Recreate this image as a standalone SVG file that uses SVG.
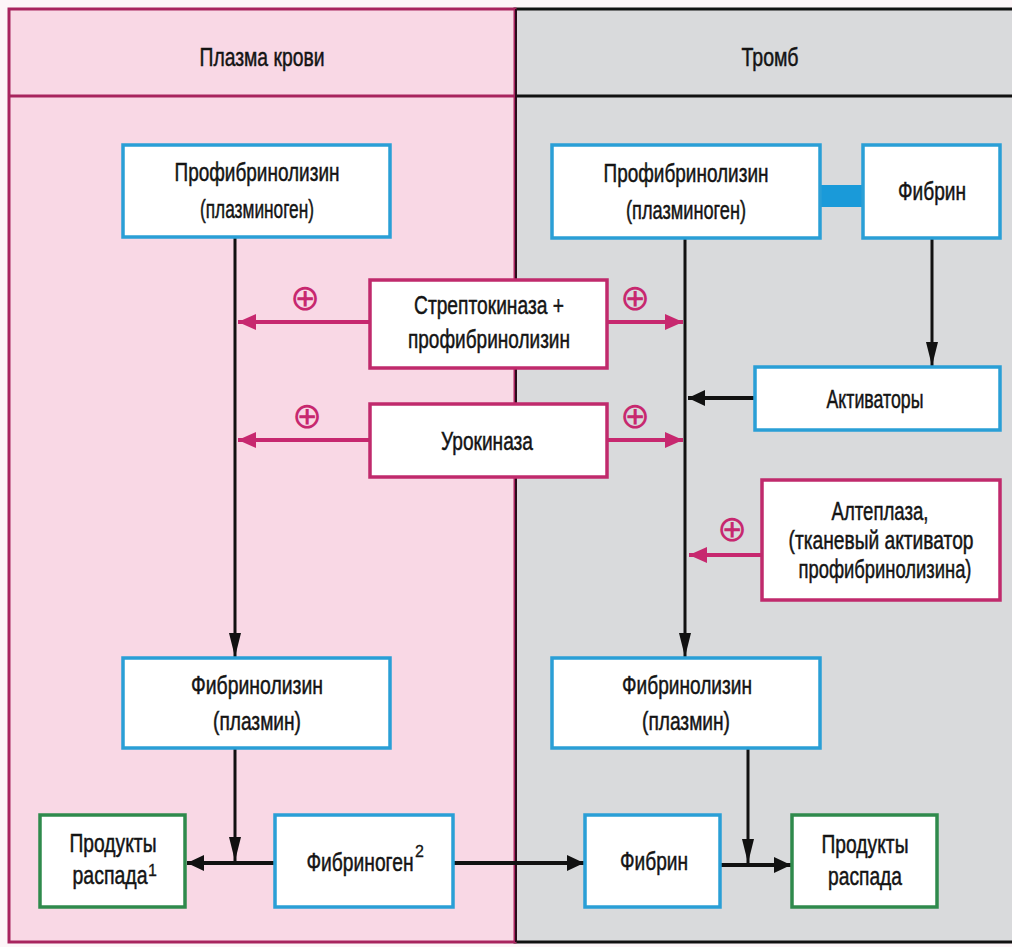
<svg xmlns="http://www.w3.org/2000/svg" width="1012" height="947" viewBox="0 0 1012 947">
<style>
.t{font-family:"Liberation Sans",Arial,sans-serif;font-size:26px;fill:#141414;stroke:#141414;stroke-width:0.5;text-anchor:middle}
.sup{font-family:"Liberation Sans",Arial,sans-serif;font-size:16px;fill:#141414;stroke:#141414;stroke-width:0.3}
.bx{fill:#ffffff;stroke:#2a9fd6;stroke-width:3.5}
.mx{fill:#ffffff;stroke:#c02a6c;stroke-width:3.5}
.gx{fill:#ffffff;stroke:#2f8a4c;stroke-width:3.5}
.bl{stroke:#111;stroke-width:3;fill:none}
.bl4{stroke:#111;stroke-width:4;fill:none}
.mg{stroke:#c7286f;stroke-width:4;fill:none}
.plus{font-family:"DejaVu Sans",sans-serif;font-size:36px;fill:#c7286f;text-anchor:middle;dominant-baseline:central}
</style>
<defs>
<marker id="ab" markerUnits="userSpaceOnUse" markerWidth="17" markerHeight="16" refX="17" refY="8" orient="auto"><path d="M0,0 L17,8 L0,16 z" fill="#111"/></marker>
<marker id="abv" markerUnits="userSpaceOnUse" markerWidth="24" markerHeight="12" refX="24" refY="6" orient="auto"><path d="M0,0 L24,6 L0,12 z" fill="#111"/></marker>
<marker id="am" markerUnits="userSpaceOnUse" markerWidth="18" markerHeight="16" refX="18" refY="8" orient="auto"><path d="M0,0 L18,8 L0,16 z" fill="#c7286f"/></marker>
</defs>
<rect width="1012" height="947" fill="#fdf5f8"/>
<g id="panels">
<rect x="515" y="9" width="500" height="933" fill="#d9dadc" stroke="#111" stroke-width="3"/>
<rect x="9" y="9" width="506" height="933" fill="#f9d8e5" stroke="#a8245e" stroke-width="3"/>
<line x1="9" y1="96" x2="515" y2="96" stroke="#a8245e" stroke-width="3"/>
<line x1="515" y1="96" x2="1012" y2="96" stroke="#111" stroke-width="3"/>
<line x1="516" y1="9" x2="516" y2="942" stroke="#2a0a1a" stroke-width="2"/>
<text class="t" x="262" y="66" textLength="125" lengthAdjust="spacingAndGlyphs">Плазма крови</text>
<text class="t" x="770" y="66" textLength="57" lengthAdjust="spacingAndGlyphs">Тромб</text>
</g>
<g id="connectors">
<rect x="820" y="185" width="44" height="22" fill="#1a9ad9"/>
<line class="bl" x1="235" y1="237" x2="235" y2="657" marker-end="url(#abv)"/>
<line class="bl" x1="685" y1="238" x2="685" y2="657" marker-end="url(#abv)"/>
<line class="bl" x1="932" y1="238" x2="932" y2="366" marker-end="url(#abv)"/>
<line class="bl4" x1="755" y1="398" x2="688" y2="398" marker-end="url(#ab)"/>
<line class="mg" x1="370" y1="322" x2="238" y2="322" marker-end="url(#am)"/>
<line class="mg" x1="607" y1="322" x2="683" y2="322" marker-end="url(#am)"/>
<line class="mg" x1="370" y1="440" x2="238" y2="440" marker-end="url(#am)"/>
<line class="mg" x1="607" y1="440" x2="683" y2="440" marker-end="url(#am)"/>
<line class="mg" x1="762" y1="555" x2="689" y2="555" marker-end="url(#am)"/>
<text class="plus" x="305" y="297">⊕</text>
<text class="plus" x="635" y="297">⊕</text>
<text class="plus" x="307" y="415">⊕</text>
<text class="plus" x="635" y="415">⊕</text>
<text class="plus" x="732" y="528">⊕</text>
<line class="bl" x1="235" y1="748" x2="235" y2="861" marker-end="url(#abv)"/>
<line class="bl4" x1="275" y1="863" x2="187" y2="863" marker-end="url(#ab)"/>
<line class="bl4" x1="453" y1="863" x2="584" y2="863" marker-end="url(#ab)"/>
<line class="bl" x1="748" y1="748" x2="748" y2="863" marker-end="url(#abv)"/>
<line class="bl4" x1="720" y1="865" x2="791" y2="865" marker-end="url(#ab)"/>
</g>
<g id="n-profib-left">
<rect class="bx" x="123" y="145" width="267" height="92"/>
<text class="t" x="257" y="181" textLength="165" lengthAdjust="spacingAndGlyphs">Профибринолизин</text>
<text class="t" x="257" y="218" textLength="114" lengthAdjust="spacingAndGlyphs">(плазминоген)</text>
</g>
<g id="n-profib-right">
<rect class="bx" x="552" y="145" width="268" height="93"/>
<text class="t" x="686" y="182" textLength="165" lengthAdjust="spacingAndGlyphs">Профибринолизин</text>
<text class="t" x="686" y="219" textLength="120" lengthAdjust="spacingAndGlyphs">(плазминоген)</text>
</g>
<g id="n-fibrin-top">
<rect class="bx" x="863" y="145" width="137" height="93"/>
<text class="t" x="932" y="200" textLength="68" lengthAdjust="spacingAndGlyphs">Фибрин</text>
</g>
<g id="n-strepto">
<rect class="mx" x="370" y="280" width="237" height="88"/>
<text class="t" x="489" y="314" textLength="150" lengthAdjust="spacingAndGlyphs">Стрептокиназа +</text>
<text class="t" x="489" y="348" textLength="162" lengthAdjust="spacingAndGlyphs">профибринолизин</text>
</g>
<g id="n-activators">
<rect class="bx" x="755" y="367" width="245" height="63"/>
<text class="t" x="875" y="408" textLength="97" lengthAdjust="spacingAndGlyphs">Активаторы</text>
</g>
<g id="n-urokinase">
<rect class="mx" x="370" y="404" width="237" height="73"/>
<text class="t" x="487" y="450" textLength="92" lengthAdjust="spacingAndGlyphs">Урокиназа</text>
</g>
<g id="n-alteplase">
<rect class="mx" x="762" y="480" width="238" height="120"/>
<text class="t" x="880" y="520" textLength="97" lengthAdjust="spacingAndGlyphs">Алтеплаза,</text>
<text class="t" x="881" y="549" textLength="185" lengthAdjust="spacingAndGlyphs">(тканевый активатор</text>
<text class="t" x="885" y="578" textLength="173" lengthAdjust="spacingAndGlyphs">профибринолизина)</text>
</g>
<g id="n-fibrinolysin-left">
<rect class="bx" x="123" y="658" width="267" height="90"/>
<text class="t" x="257" y="694" textLength="132" lengthAdjust="spacingAndGlyphs">Фибринолизин</text>
<text class="t" x="257" y="730" textLength="88" lengthAdjust="spacingAndGlyphs">(плазмин)</text>
</g>
<g id="n-fibrinolysin-right">
<rect class="bx" x="552" y="658" width="268" height="90"/>
<text class="t" x="687" y="694" textLength="130" lengthAdjust="spacingAndGlyphs">Фибринолизин</text>
<text class="t" x="686" y="730" textLength="88" lengthAdjust="spacingAndGlyphs">(плазмин)</text>
</g>
<g id="n-products-left">
<rect class="gx" x="40" y="815" width="145" height="92"/>
<text class="t" x="113" y="852" textLength="87" lengthAdjust="spacingAndGlyphs">Продукты</text>
<text class="t" x="110" y="884" textLength="75" lengthAdjust="spacingAndGlyphs">распада</text>
<text class="sup" x="148" y="876">1</text>
</g>
<g id="n-fibrinogen">
<rect class="bx" x="275" y="815" width="178" height="92"/>
<text class="t" x="360" y="871" textLength="107" lengthAdjust="spacingAndGlyphs">Фибриноген</text>
<text class="sup" x="415" y="857">2</text>
</g>
<g id="n-fibrin-bottom">
<rect class="bx" x="585" y="815" width="135" height="92"/>
<text class="t" x="654" y="870" textLength="68" lengthAdjust="spacingAndGlyphs">Фибрин</text>
</g>
<g id="n-products-right">
<rect class="gx" x="792" y="815" width="145" height="92"/>
<text class="t" x="865" y="853" textLength="87" lengthAdjust="spacingAndGlyphs">Продукты</text>
<text class="t" x="865" y="885" textLength="74" lengthAdjust="spacingAndGlyphs">распада</text>
</g>
</svg>
